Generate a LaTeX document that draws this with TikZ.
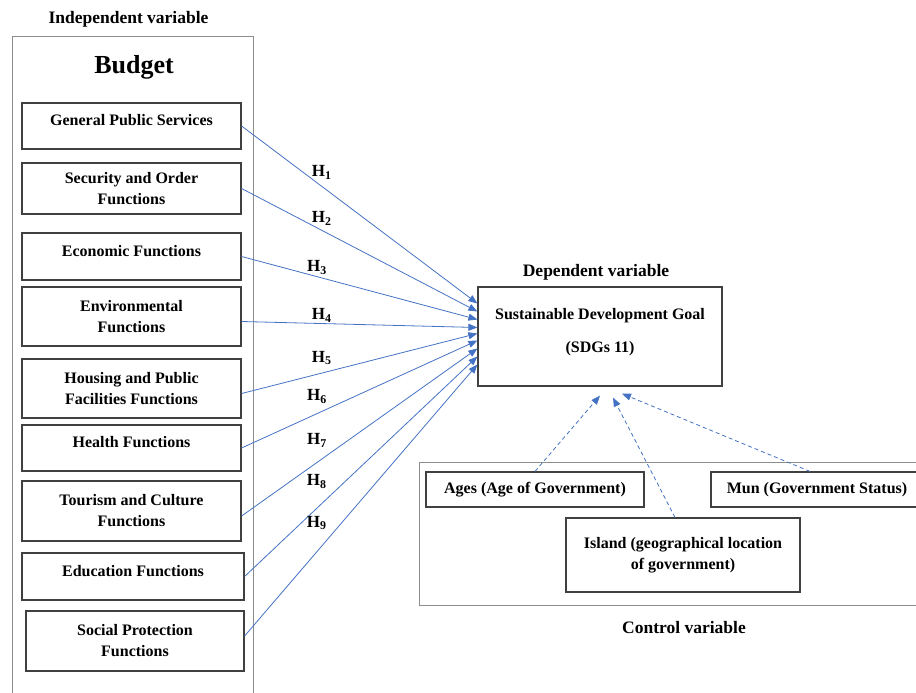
\documentclass[tikz,border=0pt]{standalone}
\usepackage{fontspec}
\setmainfont{Liberation Serif}
\usetikzlibrary{arrows.meta,positioning}
\definecolor{linkblue}{RGB}{68,114,196}

\begin{document}
\begin{tikzpicture}[
  x=1pt, y=-1pt,
  font=\fontsize{16}{21}\selectfont\bfseries,
  fnc/.style={draw=black!75, line width=1.2pt, minimum width=219pt, align=center, inner sep=2pt},
  onel/.style={text depth=12pt},
  frame/.style={draw=black!45, line width=0.8pt},
  title/.style={font=\fontsize{17.5}{21}\selectfont\bfseries, inner sep=1pt},
  hlab/.style={text=black, inner sep=1pt, font=\fontsize{17}{21}\selectfont\bfseries},
  flow/.style={-{Triangle[length=9pt,width=7pt]}, linkblue, line width=0.8pt},
  ctrl/.style={flow, dash pattern=on 4pt off 3pt}
]
\useasboundingbox (0,0) rectangle (916,693);

% frames
\draw[frame] (12,36) rectangle (253,705);
\draw[frame] (419,462) rectangle (935,605);

\node[title] (indep) at (128.5,19) {Independent variable};
\node[font=\fontsize{26}{30}\selectfont\bfseries] (budget) at (134,67) {Budget};

% budget functions
\node[fnc, onel, minimum height=46pt] (gps) at (131.5,126) {General Public Services};
\node[fnc, minimum height=51pt] (sec) at (131.5,188.5) {Security and Order\\Functions};
\node[fnc, onel, minimum height=47pt] (eco) at (131.5,256.5) {Economic Functions};
\node[fnc, minimum height=59pt] (env) at (131.5,316.5) {Environmental\\Functions};
\node[fnc, minimum height=59pt] (hou) at (131.5,388.5) {Housing and Public\\Facilities Functions};
\node[fnc, onel, minimum height=46pt] (hea) at (131.5,448) {Health Functions};
\node[fnc, minimum height=60pt] (tou) at (131.5,511) {Tourism and Culture\\Functions};
\node[fnc, onel, minimum height=47pt, minimum width=222pt] (edu) at (133,576.5) {Education Functions};
\node[fnc, minimum height=60pt, minimum width=218pt] (soc) at (135,641) {Social Protection\\Functions};

% dependent variable
\node[title] (dep) at (596,272) {Dependent variable};
\node[fnc, minimum width=244pt, minimum height=99pt] (sdg) at (600,336.5) {Sustainable Development Goal\\[12pt](SDGs 11)\\[-9pt]\mbox{}};

% control variables
\node[fnc, minimum width=218pt, minimum height=35pt] (ages) at (535,489.5) {Ages (Age of Government)};
\node[fnc, minimum width=212pt, minimum height=35pt] (mun) at (817,489.5) {Mun (Government Status)};
\node[fnc, minimum width=234pt, minimum height=74pt] (island) at (683,555) {Island (geographical location\\of government)};
\node[title] (control) at (684,628) {Control variable};

\draw[flow] (gps.east) -- node[hlab, pos=0.34, yshift=14pt] (h1) {H\textsubscript{1}} ([yshift=33pt]sdg.west);
\draw[flow] (sec.east) -- node[hlab, pos=0.34, yshift=12pt] (h2) {H\textsubscript{2}} ([yshift=25pt]sdg.west);
\draw[flow] (eco.east) -- node[hlab, pos=0.32, yshift=9pt] (h3) {H\textsubscript{3}} ([yshift=17pt]sdg.west);
\draw[flow] ([yshift=-5pt]env.east) -- node[hlab, pos=0.34, yshift=8pt] (h4) {H\textsubscript{4}} ([yshift=9pt]sdg.west);
\draw[flow] ([yshift=-5pt]hou.east) -- node[hlab, pos=0.34, yshift=15pt] (h5) {H\textsubscript{5}} ([yshift=3pt]sdg.west);
\draw[flow] (hea.east) -- node[hlab, pos=0.32, yshift=17pt] (h6) {H\textsubscript{6}} ([yshift=-4pt]sdg.west);
\draw[flow] ([yshift=-5pt]tou.east) -- node[hlab, pos=0.32, yshift=22pt] (h7) {H\textsubscript{7}} ([yshift=-12pt]sdg.west);
\draw[flow] (edu.east) -- node[hlab, pos=0.31, yshift=27pt] (h8) {H\textsubscript{8}} ([yshift=-20pt]sdg.west);
\draw[flow] ([yshift=5pt]soc.east) -- node[hlab, pos=0.31, yshift=29pt] (h9) {H\textsubscript{9}} ([yshift=-28pt]sdg.west);

\draw[ctrl] (ages.north) -- ([yshift=-9pt]sdg.south);
\draw[ctrl] ([xshift=-8pt]island.north) -- ([xshift=13pt,yshift=-11pt]sdg.south);
\draw[ctrl] ([xshift=-7pt]mun.north) -- ([xshift=22pt,yshift=-7pt]sdg.south);
\end{tikzpicture}
\end{document}
